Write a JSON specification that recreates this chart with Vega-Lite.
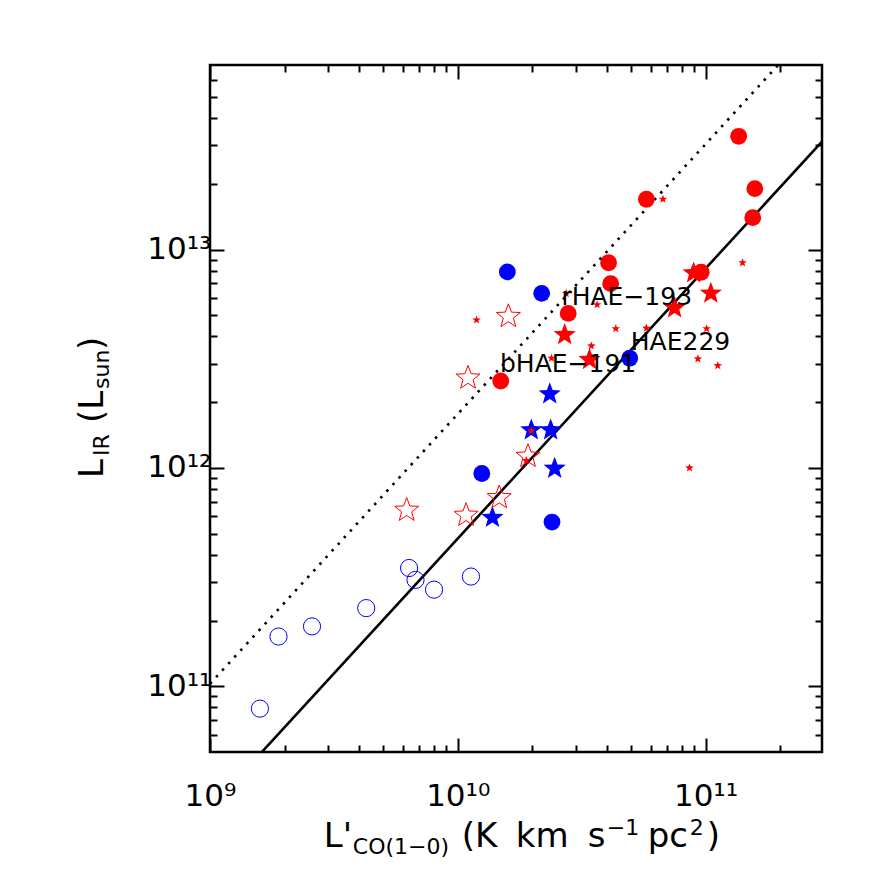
{
  "$schema": "https://vega.github.io/schema/vega-lite/v6.json",
  "width": 612,
  "height": 687,
  "autosize": {"type": "none"},
  "padding": {"left": 210, "top": 65, "right": 64, "bottom": 134},
  "background": "white",
  "config": {
    "view": {"stroke": "black", "strokeWidth": 2.5},
    "axis": {
      "grid": false,
      "domain": false,
      "title": null,
      "labelFont": "DejaVu Sans",
      "labelFontSize": 31,
      "labelColor": "black",
      "tickColor": "black",
      "tickWidth": 2,
      "labelFlush": false,
      "labelOverlap": false
    },
    "text": {"font": "DejaVu Sans", "color": "black"}
  },
  "datasets": {
    "relations": [
      {"rel": "fit", "lco": 1514000000, "lir": 46000000000},
      {"rel": "fit", "lco": 295000000000, "lir": 31200000000000},
      {"rel": "starburst", "lco": 1000000000, "lir": 102600000000},
      {"rel": "starburst", "lco": 200000000000, "lir": 71600000000000}
    ],
    "openBlueCircles": [
      {"lco": 1590000000, "lir": 79000000000},
      {"lco": 1890000000, "lir": 169000000000},
      {"lco": 2580000000, "lir": 188000000000},
      {"lco": 4270000000, "lir": 228000000000},
      {"lco": 6360000000, "lir": 348000000000},
      {"lco": 6750000000, "lir": 307000000000},
      {"lco": 8020000000, "lir": 277000000000},
      {"lco": 11300000000, "lir": 318000000000}
    ],
    "blueCircles": [
      {"lco": 15850000000, "lir": 7900000000000},
      {"lco": 21800000000, "lir": 6300000000000},
      {"lco": 49400000000, "lir": 3180000000000},
      {"lco": 12500000000, "lir": 943000000000},
      {"lco": 24000000000, "lir": 565000000000}
    ],
    "blueStars": [
      {"lco": 23500000000, "lir": 2180000000000},
      {"lco": 19800000000, "lir": 1490000000000},
      {"lco": 23700000000, "lir": 1490000000000},
      {"lco": 24600000000, "lir": 994000000000},
      {"lco": 13800000000, "lir": 592000000000}
    ],
    "openRedStars": [
      {"lco": 16000000000, "lir": 4940000000000},
      {"lco": 11000000000, "lir": 2580000000000},
      {"lco": 19200000000, "lir": 1130000000000},
      {"lco": 14700000000, "lir": 731000000000},
      {"lco": 10800000000, "lir": 607000000000},
      {"lco": 6220000000, "lir": 640000000000}
    ],
    "redStars": [
      {"lco": 105000000000, "lir": 6300000000000},
      {"lco": 75000000000, "lir": 5400000000000},
      {"lco": 89500000000, "lir": 7800000000000},
      {"lco": 27000000000, "lir": 4070000000000},
      {"lco": 34000000000, "lir": 3130000000000}
    ],
    "redCircles": [
      {"lco": 136000000000, "lir": 33000000000000},
      {"lco": 158000000000, "lir": 19000000000000},
      {"lco": 155000000000, "lir": 14000000000000},
      {"lco": 57700000000, "lir": 17000000000000},
      {"lco": 40600000000, "lir": 8700000000000},
      {"lco": 41400000000, "lir": 6980000000000},
      {"lco": 96000000000, "lir": 7870000000000},
      {"lco": 27900000000, "lir": 5100000000000},
      {"lco": 14900000000, "lir": 2500000000000}
    ],
    "smallRedStars": [
      {"lco": 67300000000, "lir": 17000000000000},
      {"lco": 141000000000, "lir": 8700000000000},
      {"lco": 27400000000, "lir": 6290000000000},
      {"lco": 36500000000, "lir": 5590000000000},
      {"lco": 11900000000, "lir": 4760000000000},
      {"lco": 43400000000, "lir": 4340000000000},
      {"lco": 57700000000, "lir": 4370000000000},
      {"lco": 101000000000, "lir": 4340000000000},
      {"lco": 34600000000, "lir": 3620000000000},
      {"lco": 23900000000, "lir": 3180000000000},
      {"lco": 93100000000, "lir": 3160000000000},
      {"lco": 112000000000, "lir": 2940000000000},
      {"lco": 19800000000, "lir": 1480000000000},
      {"lco": 18900000000, "lir": 1080000000000},
      {"lco": 86100000000, "lir": 1000000000000}
    ],
    "names": [
      {"name": "rHAE−193", "lco": 26200000000, "lir": 5590000000000},
      {"name": "HAE229", "lco": 49900000000, "lir": 3470000000000},
      {"name": "bHAE−191", "lco": 14800000000, "lir": 2750000000000}
    ]
  },
  "resolve": {"axis": {"x": "independent", "y": "independent"}},
  "layer": [
    {
      "data": {"name": "relations"},
      "transform": [{"filter": "datum.rel == 'fit'"}],
      "mark": {"type": "line", "color": "black", "strokeWidth": 2.6, "clip": true},
      "encoding": {
        "x": {"field": "lco", "type": "quantitative", "scale": {"type": "log", "domain": [1000000000, 295000000000], "nice": false},
          "axis": {"orient": "bottom", "labelPadding": 43,
            "values": [1000000000, 2000000000, 3000000000, 4000000000, 5000000000, 6000000000, 7000000000, 8000000000, 9000000000, 10000000000, 20000000000, 30000000000, 40000000000, 50000000000, 60000000000, 70000000000, 80000000000, 90000000000, 100000000000, 200000000000],
            "labelExpr": "datum.value == 1000000000 ? '10⁹' : datum.value == 10000000000 ? '10¹⁰' : datum.value == 100000000000 ? '10¹¹' : ''",
            "tickSize": {"condition": {"test": "datum.value == 1000000000 || datum.value == 10000000000 || datum.value == 100000000000", "value": -14}, "value": -7}}},
        "y": {"field": "lir", "type": "quantitative", "scale": {"type": "log", "domain": [50000000000, 70000000000000], "nice": false},
          "axis": {"orient": "left", "labelPadding": 13,
            "values": [60000000000, 70000000000, 80000000000, 90000000000, 100000000000, 200000000000, 300000000000, 400000000000, 500000000000, 600000000000, 700000000000, 800000000000, 900000000000, 1000000000000, 2000000000000, 3000000000000, 4000000000000, 5000000000000, 6000000000000, 7000000000000, 8000000000000, 9000000000000, 10000000000000, 20000000000000, 30000000000000, 40000000000000, 50000000000000, 60000000000000],
            "labelExpr": "datum.value == 100000000000 ? '10¹¹' : datum.value == 1000000000000 ? '10¹²' : datum.value == 10000000000000 ? '10¹³' : ''",
            "tickSize": {"condition": {"test": "datum.value == 100000000000 || datum.value == 1000000000000 || datum.value == 10000000000000", "value": -14}, "value": -7}}}
      }
    },
    {
      "data": {"name": "relations"},
      "transform": [{"filter": "datum.rel == 'starburst'"}],
      "mark": {"type": "line", "color": "black", "strokeWidth": 2.6, "strokeDash": [2.5, 6.5], "clip": true},
      "encoding": {
        "x": {"field": "lco", "type": "quantitative", "scale": {"type": "log", "domain": [1000000000, 295000000000], "nice": false},
          "axis": {"orient": "top", "labels": false,
            "values": [1000000000, 2000000000, 3000000000, 4000000000, 5000000000, 6000000000, 7000000000, 8000000000, 9000000000, 10000000000, 20000000000, 30000000000, 40000000000, 50000000000, 60000000000, 70000000000, 80000000000, 90000000000, 100000000000, 200000000000],
            "tickSize": {"condition": {"test": "datum.value == 1000000000 || datum.value == 10000000000 || datum.value == 100000000000", "value": -14}, "value": -7}}},
        "y": {"field": "lir", "type": "quantitative", "scale": {"type": "log", "domain": [50000000000, 70000000000000], "nice": false},
          "axis": {"orient": "right", "labels": false,
            "values": [60000000000, 70000000000, 80000000000, 90000000000, 100000000000, 200000000000, 300000000000, 400000000000, 500000000000, 600000000000, 700000000000, 800000000000, 900000000000, 1000000000000, 2000000000000, 3000000000000, 4000000000000, 5000000000000, 6000000000000, 7000000000000, 8000000000000, 9000000000000, 10000000000000, 20000000000000, 30000000000000, 40000000000000, 50000000000000, 60000000000000],
            "tickSize": {"condition": {"test": "datum.value == 100000000000 || datum.value == 1000000000000 || datum.value == 10000000000000", "value": -14}, "value": -7}}}
      }
    },
    {
      "data": {"name": "openBlueCircles"},
      "mark": {"type": "point", "shape": "circle", "filled": false, "stroke": "#0000ff", "strokeWidth": 1, "size": 296, "opacity": 1},
      "encoding": {
        "x": {"field": "lco", "type": "quantitative", "scale": {"type": "log", "domain": [1000000000, 295000000000], "nice": false}, "axis": null},
        "y": {"field": "lir", "type": "quantitative", "scale": {"type": "log", "domain": [50000000000, 70000000000000], "nice": false}, "axis": null}
      }
    },
    {
      "data": {"name": "blueCircles"},
      "mark": {"type": "point", "shape": "circle", "filled": true, "fill": "#0000ff", "size": 283, "opacity": 1},
      "encoding": {
        "x": {"field": "lco", "type": "quantitative", "scale": {"type": "log", "domain": [1000000000, 295000000000], "nice": false}, "axis": null},
        "y": {"field": "lir", "type": "quantitative", "scale": {"type": "log", "domain": [50000000000, 70000000000000], "nice": false}, "axis": null}
      }
    },
    {
      "data": {"name": "blueStars"},
      "mark": {"type": "point", "shape": "M0,-1L0.2469,-0.3398L0.9511,-0.309L0.3994,0.1298L0.5878,0.809L0,0.42L-0.5878,0.809L-0.3994,0.1298L-0.9511,-0.309L-0.2469,-0.3398Z", "filled": true, "fill": "#0000ff", "size": 548, "opacity": 1},
      "encoding": {
        "x": {"field": "lco", "type": "quantitative", "scale": {"type": "log", "domain": [1000000000, 295000000000], "nice": false}, "axis": null},
        "y": {"field": "lir", "type": "quantitative", "scale": {"type": "log", "domain": [50000000000, 70000000000000], "nice": false}, "axis": null}
      }
    },
    {
      "data": {"name": "openRedStars"},
      "mark": {"type": "point", "shape": "M0,-1L0.2469,-0.3398L0.9511,-0.309L0.3994,0.1298L0.5878,0.809L0,0.42L-0.5878,0.809L-0.3994,0.1298L-0.9511,-0.309L-0.2469,-0.3398Z", "filled": false, "stroke": "#ff0000", "strokeWidth": 1, "size": 635, "opacity": 1},
      "encoding": {
        "x": {"field": "lco", "type": "quantitative", "scale": {"type": "log", "domain": [1000000000, 295000000000], "nice": false}, "axis": null},
        "y": {"field": "lir", "type": "quantitative", "scale": {"type": "log", "domain": [50000000000, 70000000000000], "nice": false}, "axis": null}
      }
    },
    {
      "data": {"name": "redStars"},
      "mark": {"type": "point", "shape": "M0,-1L0.2469,-0.3398L0.9511,-0.309L0.3994,0.1298L0.5878,0.809L0,0.42L-0.5878,0.809L-0.3994,0.1298L-0.9511,-0.309L-0.2469,-0.3398Z", "filled": true, "fill": "#ff0000", "size": 548, "opacity": 1},
      "encoding": {
        "x": {"field": "lco", "type": "quantitative", "scale": {"type": "log", "domain": [1000000000, 295000000000], "nice": false}, "axis": null},
        "y": {"field": "lir", "type": "quantitative", "scale": {"type": "log", "domain": [50000000000, 70000000000000], "nice": false}, "axis": null}
      }
    },
    {
      "data": {"name": "redCircles"},
      "mark": {"type": "point", "shape": "circle", "filled": true, "fill": "#ff0000", "size": 283, "opacity": 1},
      "encoding": {
        "x": {"field": "lco", "type": "quantitative", "scale": {"type": "log", "domain": [1000000000, 295000000000], "nice": false}, "axis": null},
        "y": {"field": "lir", "type": "quantitative", "scale": {"type": "log", "domain": [50000000000, 70000000000000], "nice": false}, "axis": null}
      }
    },
    {
      "data": {"name": "smallRedStars"},
      "mark": {"type": "point", "shape": "M0,-1L0.2469,-0.3398L0.9511,-0.309L0.3994,0.1298L0.5878,0.809L0,0.42L-0.5878,0.809L-0.3994,0.1298L-0.9511,-0.309L-0.2469,-0.3398Z", "filled": true, "fill": "#ff0000", "size": 81, "opacity": 1},
      "encoding": {
        "x": {"field": "lco", "type": "quantitative", "scale": {"type": "log", "domain": [1000000000, 295000000000], "nice": false}, "axis": null},
        "y": {"field": "lir", "type": "quantitative", "scale": {"type": "log", "domain": [50000000000, 70000000000000], "nice": false}, "axis": null}
      }
    },
    {
      "data": {"name": "names"},
      "mark": {"type": "text", "align": "left", "baseline": "alphabetic", "fontSize": 25},
      "encoding": {
        "text": {"field": "name"},
        "x": {"field": "lco", "type": "quantitative", "scale": {"type": "log", "domain": [1000000000, 295000000000], "nice": false}, "axis": null},
        "y": {"field": "lir", "type": "quantitative", "scale": {"type": "log", "domain": [50000000000, 70000000000000], "nice": false}, "axis": null}
      }
    },
    {
      "data": {"values": [{"t": "L'"}]},
      "mark": {"type": "text", "align": "left", "baseline": "alphabetic", "fontSize": 34, "dx": -134},
      "encoding": {"text": {"field": "t"}, "x": {"datum": 10000000000, "type": "quantitative", "axis": null}, "y": {"datum": 18400000000, "type": "quantitative", "axis": null}}
    },
    {
      "data": {"values": [{"t": "CO(1−0)"}]},
      "mark": {"type": "text", "align": "left", "baseline": "alphabetic", "fontSize": 22, "dx": -105, "dy": 7},
      "encoding": {"text": {"field": "t"}, "x": {"datum": 10000000000, "type": "quantitative", "axis": null}, "y": {"datum": 18400000000, "type": "quantitative", "axis": null}}
    },
    {
      "data": {"values": [{"t": "(K"}]},
      "mark": {"type": "text", "align": "left", "baseline": "alphabetic", "fontSize": 34, "dx": 4},
      "encoding": {"text": {"field": "t"}, "x": {"datum": 10000000000, "type": "quantitative", "axis": null}, "y": {"datum": 18400000000, "type": "quantitative", "axis": null}}
    },
    {
      "data": {"values": [{"t": "km"}]},
      "mark": {"type": "text", "align": "left", "baseline": "alphabetic", "fontSize": 34, "dx": 58},
      "encoding": {"text": {"field": "t"}, "x": {"datum": 10000000000, "type": "quantitative", "axis": null}, "y": {"datum": 18400000000, "type": "quantitative", "axis": null}}
    },
    {
      "data": {"values": [{"t": "s"}]},
      "mark": {"type": "text", "align": "left", "baseline": "alphabetic", "fontSize": 34, "dx": 130},
      "encoding": {"text": {"field": "t"}, "x": {"datum": 10000000000, "type": "quantitative", "axis": null}, "y": {"datum": 18400000000, "type": "quantitative", "axis": null}}
    },
    {
      "data": {"values": [{"t": "−1"}]},
      "mark": {"type": "text", "align": "left", "baseline": "alphabetic", "fontSize": 22, "dx": 149, "dy": -12},
      "encoding": {"text": {"field": "t"}, "x": {"datum": 10000000000, "type": "quantitative", "axis": null}, "y": {"datum": 18400000000, "type": "quantitative", "axis": null}}
    },
    {
      "data": {"values": [{"t": "pc"}]},
      "mark": {"type": "text", "align": "left", "baseline": "alphabetic", "fontSize": 34, "dx": 190},
      "encoding": {"text": {"field": "t"}, "x": {"datum": 10000000000, "type": "quantitative", "axis": null}, "y": {"datum": 18400000000, "type": "quantitative", "axis": null}}
    },
    {
      "data": {"values": [{"t": "2"}]},
      "mark": {"type": "text", "align": "left", "baseline": "alphabetic", "fontSize": 22, "dx": 232, "dy": -12},
      "encoding": {"text": {"field": "t"}, "x": {"datum": 10000000000, "type": "quantitative", "axis": null}, "y": {"datum": 18400000000, "type": "quantitative", "axis": null}}
    },
    {
      "data": {"values": [{"t": ")"}]},
      "mark": {"type": "text", "align": "left", "baseline": "alphabetic", "fontSize": 34, "dx": 249},
      "encoding": {"text": {"field": "t"}, "x": {"datum": 10000000000, "type": "quantitative", "axis": null}, "y": {"datum": 18400000000, "type": "quantitative", "axis": null}}
    },
    {
      "data": {"values": [{"t": "L"}]},
      "mark": {"type": "text", "align": "left", "baseline": "alphabetic", "fontSize": 34, "angle": 270, "dx": -10},
      "encoding": {"text": {"field": "t"}, "x": {"datum": 370000000, "type": "quantitative", "axis": null}, "y": {"datum": 1000000000000, "type": "quantitative", "axis": null}}
    },
    {
      "data": {"values": [{"t": "IR"}]},
      "mark": {"type": "text", "align": "left", "baseline": "alphabetic", "fontSize": 22, "angle": 270, "dx": 12, "dy": 6},
      "encoding": {"text": {"field": "t"}, "x": {"datum": 370000000, "type": "quantitative", "axis": null}, "y": {"datum": 1000000000000, "type": "quantitative", "axis": null}}
    },
    {
      "data": {"values": [{"t": "(L"}]},
      "mark": {"type": "text", "align": "left", "baseline": "alphabetic", "fontSize": 34, "angle": 270, "dx": 45},
      "encoding": {"text": {"field": "t"}, "x": {"datum": 370000000, "type": "quantitative", "axis": null}, "y": {"datum": 1000000000000, "type": "quantitative", "axis": null}}
    },
    {
      "data": {"values": [{"t": "sun"}]},
      "mark": {"type": "text", "align": "left", "baseline": "alphabetic", "fontSize": 22, "angle": 270, "dx": 79, "dy": 6},
      "encoding": {"text": {"field": "t"}, "x": {"datum": 370000000, "type": "quantitative", "axis": null}, "y": {"datum": 1000000000000, "type": "quantitative", "axis": null}}
    },
    {
      "data": {"values": [{"t": ")"}]},
      "mark": {"type": "text", "align": "left", "baseline": "alphabetic", "fontSize": 34, "angle": 270, "dx": 118},
      "encoding": {"text": {"field": "t"}, "x": {"datum": 370000000, "type": "quantitative", "axis": null}, "y": {"datum": 1000000000000, "type": "quantitative", "axis": null}}
    }
  ]
}
